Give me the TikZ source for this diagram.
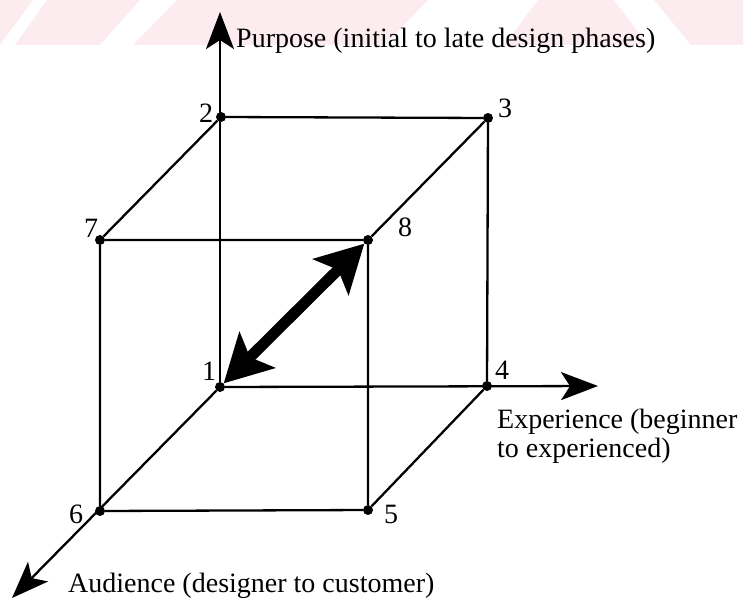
\documentclass[tikz,border=0pt]{standalone}
\usepackage{fontspec}
\setmainfont{Liberation Serif}
\usetikzlibrary{arrows.meta}
\definecolor{wmpink}{RGB}{253,236,239}
\tikzset{
    corner/.style={circle,fill=black,inner sep=0pt,minimum size=10pt},
    edge/.style={line width=2.3pt},
    axis/.style={line width=2.3pt,-{Stealth[length=37pt,width=28pt,inset=9pt]}},
    twoway/.style={line width=11pt,{Stealth[length=47pt,width=50pt,inset=10pt]}-{Stealth[length=47pt,width=50pt,inset=10pt]}},
    num/.style={font=\fontsize{28}{29}\selectfont,inner sep=0pt},
    axislabel/.style={font=\fontsize{28}{29}\selectfont,inner sep=0pt,align=left}
}

\begin{document}
\begin{tikzpicture}[x=1pt,y=-1pt]
    \useasboundingbox (0,0) rectangle (743,599);

    \fill[wmpink] (0,0) -- (33,0) -- (0,45) -- cycle;
    \fill[wmpink] (47,0) -- (140,0) -- (100,45) -- (15,45) -- cycle;
    \fill[wmpink] (177,0) -- (428,0) -- (385,45) -- (133,45) -- cycle;
    \fill[wmpink] (538,0) -- (614,0) -- (648,45) -- (504,45) -- cycle;
    \fill[wmpink] (654,0) -- (743,0) -- (743,45) -- (691,45) -- cycle;

    \node[corner] (p1) at (220,387) {};
    \node[corner] (p2) at (221,117) {};
    \node[corner] (p3) at (488,118) {};
    \node[corner] (p4) at (487,386) {};
    \node[corner] (p5) at (368,510) {};
    \node[corner] (p6) at (100,511) {};
    \node[corner] (p7) at (100,240) {};
    \node[corner] (p8) at (368,240) {};

    \coordinate (purpose) at (220,12);
    \coordinate (experience) at (598,386);
    \coordinate (audience) at (12,598);

    \draw[edge] (p2) -- (p3) -- (p4);
    \draw[edge] (p7) -- (p8) -- (p5) -- (p6) -- (p7);
    \draw[edge] (p2) -- (p7);
    \draw[edge] (p3) -- (p8);
    \draw[edge] (p4) -- (p5);

    \draw[axis] (p1) -- (purpose);
    \draw[axis] (p1) -- (experience);
    \draw[axis] (p1) -- (audience);

    \draw[twoway] (p1) -- (p8);

    \node[num] (n1) at (209,371) {1};
    \node[num] (n2) at (206,113) {2};
    \node[num] (n3) at (505,108) {3};
    \node[num] (n4) at (502,370) {4};
    \node[num] (n5) at (391,514) {5};
    \node[num] (n6) at (76,514) {6};
    \node[num] (n7) at (91,228) {7};
    \node[num] (n8) at (405,227) {8};

    \node[axislabel,anchor=base west] (purposelabel) at (236,48) {Purpose (initial to late design phases)};
    \node[axislabel,anchor=north west] (experiencelabel) at (497,409) {Experience (beginner\\to experienced)};
    \node[axislabel,anchor=base west] (audiencelabel) at (68,592) {Audience (designer to customer)};

\end{tikzpicture}
\end{document}
